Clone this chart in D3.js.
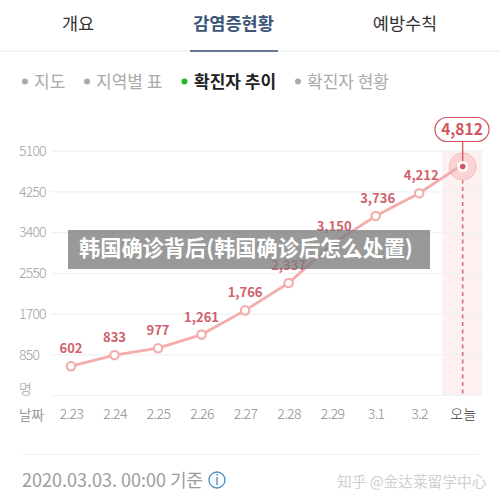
<!DOCTYPE html>
<html>
<head>
<meta charset="utf-8">
<script src="https://cdn.jsdelivr.net/npm/d3@7/dist/d3.min.js"></script>
<style>
html, body { margin: 0; padding: 0; background: #fff; }
svg { display: block; }
text { font-family: "Noto Sans CJK KR", "Noto Sans", sans-serif; }
</style>
</head>
<body>
<svg id="chart" width="500" height="500"></svg>
<script>
var dates = ["2.23", "2.24", "2.25", "2.26", "2.27", "2.28", "2.29", "3.1", "3.2", "오늘"];
var cases = [602, 833, 977, 1261, 1766, 2337, 3150, 3736, 4212, 4812];
var yTicks = [0, 850, 1700, 2550, 3400, 4250, 5100];
var tabs = ["개요", "감염증현황", "예방수칙"];
var subTabs = ["지도", "지역별 표", "확진자 추이", "확진자 현황"];

var lineColor = "#f3adad";
var redColor = "#d4545e";
var svg = d3.select("#chart");
var x = d3.scalePoint().domain(dates).range([71, 462.7]);
var y = d3.scaleLinear().domain([0, 5100]).range([395, 150.7]);
var format = d3.format(",");
var lastDate = dates[dates.length - 1];
var lastValue = cases[cases.length - 1];

// top tabs
var tabX = [78, 233.5, 405];
svg.selectAll(".tab").data(tabs).enter().append("text")
    .attr("class", "tab")
    .attr("x", function (d, i) { return tabX[i]; })
    .attr("y", 30)
    .attr("text-anchor", "middle")
    .attr("font-size", 17.5)
    .attr("font-weight", function (d, i) { return i == 1 ? 700 : 400; })
    .attr("fill", function (d, i) { return i == 1 ? "#3b5577" : "#333"; })
    .text(function (d) { return d; });
svg.append("rect").attr("x", 0).attr("y", 50).attr("width", 500).attr("height", 2).attr("fill", "#f3f4f5");
svg.append("rect").attr("x", 190).attr("y", 50).attr("width", 88).attr("height", 2).attr("fill", "#64788f");

// sub menu
var subX = [34, 96, 194, 307];
var dotX = [25, 87, 184.5, 298];
svg.selectAll(".subdot").data(subTabs).enter().append("circle")
    .attr("class", "subdot")
    .attr("cx", function (d, i) { return dotX[i]; })
    .attr("cy", 81.5)
    .attr("r", 3)
    .attr("fill", function (d, i) { return i == 2 ? "#22b822" : "#aaa"; });
svg.selectAll(".sub").data(subTabs).enter().append("text")
    .attr("class", "sub")
    .attr("x", function (d, i) { return subX[i]; })
    .attr("y", 88)
    .attr("font-size", 17)
    .attr("font-weight", function (d, i) { return i == 2 ? 700 : 400; })
    .attr("fill", function (d, i) { return i == 2 ? "#222" : "#aaa"; })
    .text(function (d) { return d; });

// highlighted band for today
svg.append("rect")
    .attr("x", x(lastDate) - 20.5)
    .attr("y", y(5100))
    .attr("width", 40)
    .attr("height", y(0) - y(5100))
    .attr("fill", "#fdf0f0");

// y axis with grid lines
var yAxis = svg.append("g")
    .attr("transform", "translate(51,0)")
    .call(d3.axisRight(y).tickValues(yTicks).tickSize(431));
yAxis.select(".domain").remove();
yAxis.selectAll(".tick line").attr("stroke", "#f1f1f1").attr("stroke-width", 1.2);
yAxis.selectAll(".tick text")
    .attr("x", -32)
    .attr("text-anchor", "start")
    .attr("dy", "0.34em")
    .attr("font-size", 14)
    .attr("font-weight", 300)
    .attr("letter-spacing", -0.8)
    .attr("font-family", "Roboto, sans-serif")
    .attr("fill", "#a0a0a0")
    .text(function (d) { return d == 0 ? "명" : d; });
yAxis.selectAll(".tick").filter(function (d) { return d == 0; }).select("text").attr("y", -6);

// x axis
var xAxis = svg.append("g")
    .attr("transform", "translate(0,395)")
    .call(d3.axisBottom(x).tickSize(0));
xAxis.select(".domain").remove();
xAxis.selectAll(".tick text")
    .attr("y", 14)
    .attr("dy", "0.71em")
    .attr("font-size", 14)
    .attr("font-weight", 300)
    .attr("letter-spacing", function (d) { return d == lastDate ? 0 : -0.6; })
    .attr("font-family", function (d) { return d == lastDate ? null : "Roboto, sans-serif"; })
    .attr("fill", function (d) { return d == lastDate ? "#333" : "#8e8e8e"; });
svg.append("text").attr("x", 19).attr("y", 420).attr("font-size", 13.5).attr("fill", "#999").text("날짜");

// dashed line for today
svg.append("line")
    .attr("x1", x(lastDate)).attr("x2", x(lastDate))
    .attr("y1", y(lastValue)).attr("y2", y(0))
    .attr("stroke", "#d8707c")
    .attr("stroke-width", 1.6)
    .attr("stroke-dasharray", "4,3.5");

// today's halo sits under the line
svg.append("circle")
    .attr("cx", x(lastDate)).attr("cy", y(lastValue) + 2)
    .attr("r", 13.5)
    .attr("fill", "#fbd3d3")
    .attr("stroke", "#f5bcbc");

// series line
var line = d3.line()
    .x(function (d, i) { return x(dates[i]); })
    .y(function (d) { return y(d); });
svg.append("path")
    .datum(cases)
    .attr("d", line)
    .attr("fill", "none")
    .attr("stroke", lineColor)
    .attr("stroke-width", 2.8);

svg.selectAll(".point").data(cases.slice(0, -1)).enter().append("circle")
    .attr("class", "point")
    .attr("cx", function (d, i) { return x(dates[i]); })
    .attr("cy", function (d) { return y(d); })
    .attr("r", 4.2)
    .attr("fill", "#fff")
    .attr("stroke", lineColor)
    .attr("stroke-width", 2.2);

// value labels
svg.selectAll(".value").data(cases.slice(0, -1)).enter().append("text")
    .attr("class", "value")
    .attr("x", function (d, i) { return x(dates[i]) + (i > 5 ? 2 : 0); })
    .attr("y", function (d) { return y(d) - 13; })
    .attr("text-anchor", "middle")
    .attr("font-size", 13)
    .attr("font-weight", 700)
    .attr("font-family", "Liberation Sans, sans-serif")
    .attr("fill", "#d0606a")
    .text(function (d) { return format(d); });

// today's marker and bubble
svg.append("line")
    .attr("x1", x(lastDate)).attr("x2", x(lastDate))
    .attr("y1", 142).attr("y2", y(lastValue))
    .attr("stroke", redColor)
    .attr("stroke-width", 1.3);
svg.append("circle")
    .attr("cx", x(lastDate)).attr("cy", y(lastValue) + 2)
    .attr("r", 5.5)
    .attr("fill", "#fff");
svg.append("circle")
    .attr("cx", x(lastDate)).attr("cy", y(lastValue) + 2)
    .attr("r", 2.8)
    .attr("fill", redColor);
svg.append("rect")
    .attr("x", 435).attr("y", 117.5)
    .attr("width", 54).attr("height", 24)
    .attr("rx", 12)
    .attr("fill", "#fff")
    .attr("stroke", redColor)
    .attr("stroke-width", 1.2);
svg.append("text")
    .attr("x", 462).attr("y", 135)
    .attr("text-anchor", "middle")
    .attr("font-size", 15.5)
    .attr("font-weight", 700)
    .attr("font-family", "Liberation Sans, sans-serif")
    .attr("fill", redColor)
    .text(format(lastValue));

// footer
svg.append("rect").attr("x", 22).attr("y", 454).attr("width", 456).attr("height", 1).attr("fill", "#eeeeee");
svg.append("text").attr("x", 22).attr("y", 487).attr("font-size", 18).attr("fill", "#9c9c9c").text("2020.03.03. 00:00 기준");
svg.append("circle").attr("cx", 217).attr("cy", 480).attr("r", 8).attr("fill", "none").attr("stroke", "#4a8cc0").attr("stroke-width", 1.3);
svg.append("text").attr("x", 217).attr("y", 485).attr("text-anchor", "middle").attr("font-size", 14).attr("fill", "#4a8cc0").text("i");
svg.append("text")
    .attr("x", 337).attr("y", 486.5)
    .attr("font-size", 14.7)
    .attr("font-family", "Noto Sans CJK SC")
    .attr("fill", "#cfcfcf")
    .text("知乎 @金达莱留学中心");

// grey title strip over the chart
svg.append("rect")
    .attr("x", 68).attr("y", 230)
    .attr("width", 362).attr("height", 39)
    .attr("fill", "#808080")
    .attr("fill-opacity", 0.8);
svg.append("text")
    .attr("x", 79).attr("y", 256)
    .attr("font-size", 21.2)
    .attr("font-weight", 700)
    .attr("font-family", "Noto Sans CJK SC")
    .attr("fill", "#fff")
    .text("韩国确诊背后(韩国确诊后怎么处置)");
</script>
</body>
</html>
